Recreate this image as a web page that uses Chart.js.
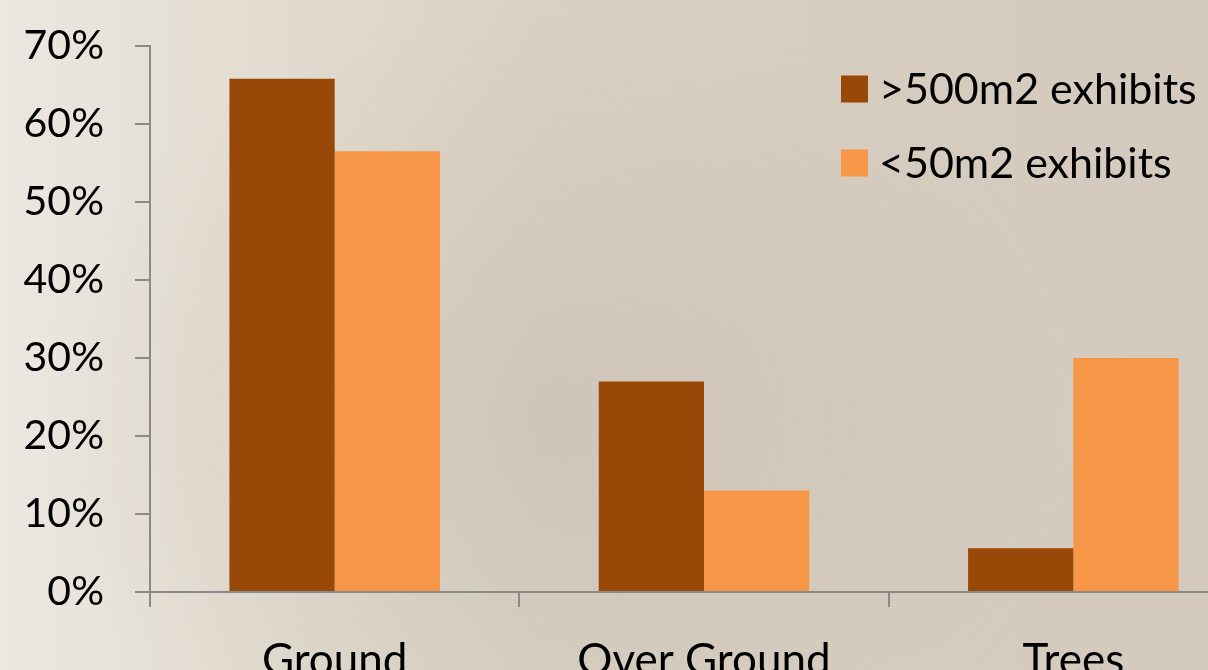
<!DOCTYPE html>
<html>
<head>
<meta charset="utf-8">
<script src="https://cdn.jsdelivr.net/npm/chart.js@4.4.1/dist/chart.umd.min.js"></script>
<style>
  html, body { margin: 0; padding: 0; width: 1208px; height: 670px; overflow: hidden; }
  body {
    background:
      radial-gradient(ellipse 520px 420px at 560px 420px, rgba(196,186,172,0.5), rgba(196,186,172,0) 100%),
      linear-gradient(90deg, #ebe8e1 0%, #e4ded3 18%, #d9d1c4 45%, #d6cdc0 70%, #d3cabd 100%);
  }
  #wrap { position: absolute; left: 0; top: 0; width: 1270px; height: 670px; }
</style>
</head>
<body>
<div id="wrap"><canvas id="c" width="1270" height="670"></canvas></div>
<script>
const categories = ['Ground', 'Over Ground', 'Trees'];
const seriesNames = ['>500m2 exhibits', '<50m2 exhibits'];
const largeExhibits = [65.8, 27.0, 5.6];
const smallExhibits = [56.5, 13.0, 30.0];
const yTicks = [0, 10, 20, 30, 40, 50, 60, 70];

const FONT = 'Lato, "Open Sans", sans-serif';
const AXIS = '#8a8a8a';

// Legend drawn inside the plot area, top right
const innerLegend = {
  id: 'innerLegend',
  afterDraw(chart) {
    const ctx = chart.ctx;
    ctx.save();
    ctx.font = '43px ' + FONT;
    ctx.textBaseline = 'middle';
    ctx.textAlign = 'left';
    chart.data.datasets.forEach((ds, i) => {
      const cy = 89 + i * 74;
      ctx.fillStyle = ds.backgroundColor;
      ctx.fillRect(841, cy - 13.5, 27, 27);
      ctx.fillStyle = '#000';
      ctx.fillText(ds.label, 879, cy + 1);
    });
    ctx.restore();
  }
};

new Chart(document.getElementById('c'), {
  type: 'bar',
  data: {
    labels: categories,
    datasets: [
      { label: seriesNames[0], data: largeExhibits, backgroundColor: '#984807' },
      { label: seriesNames[1], data: smallExhibits, backgroundColor: '#F79646' }
    ]
  },
  options: {
    responsive: false,
    animation: false,
    devicePixelRatio: 1,
    layout: { padding: { top: 46, right: 12, left: 0, bottom: 0 } },
    datasets: { bar: { categoryPercentage: 0.57, barPercentage: 1.0 } },
    plugins: { legend: { display: false }, tooltip: { enabled: false } },
    scales: {
      x: {
        grid: { offset: true, drawOnChartArea: false, drawTicks: true, tickLength: 15, color: AXIS, lineWidth: 2 },
        border: { color: AXIS, width: 2 },
        ticks: { color: '#000', font: { family: FONT, size: 44 }, padding: 27, maxRotation: 0 },
        afterFit(scale) { scale.height = 78; scale.paddingLeft = 0; scale.paddingRight = 0; }
      },
      y: {
        min: 0, max: 70,
        afterBuildTicks(scale) { scale.ticks = yTicks.map(v => ({ value: v })); },
        grid: { drawOnChartArea: false, drawTicks: true, tickLength: 15, color: AXIS, lineWidth: 2 },
        border: { color: AXIS, width: 2 },
        ticks: { color: '#000', font: { family: FONT, size: 41 }, padding: 31, callback: v => v + '%' },
        afterFit(scale) { scale.width = 150; scale.paddingTop = 0; scale.paddingBottom = 0; }
      }
    }
  },
  plugins: [innerLegend]
});
</script>
</body>
</html>
